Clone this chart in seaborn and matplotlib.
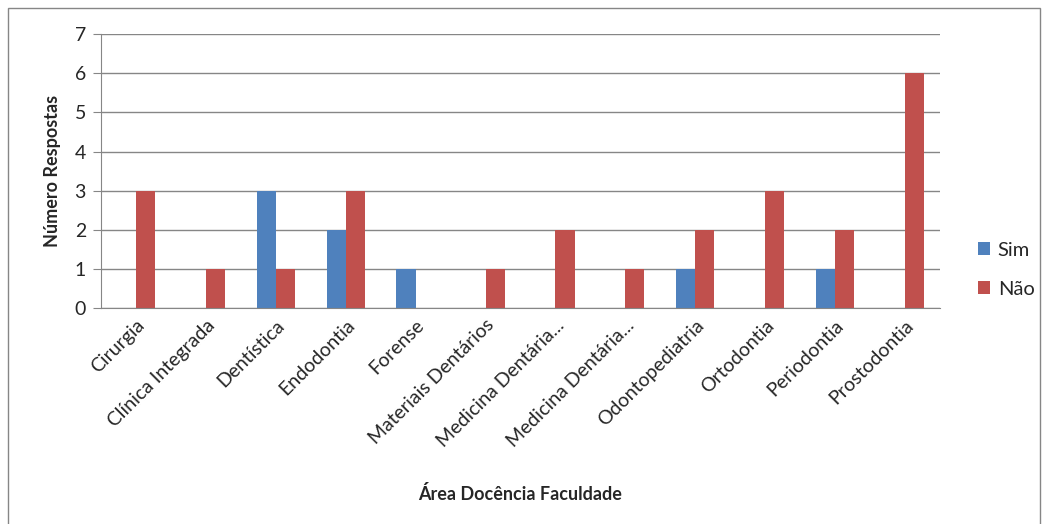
import pandas as pd
import matplotlib.pyplot as plt
import seaborn as sns
from matplotlib.patches import Rectangle, Patch

categorias = ["Cirurgia", "Clínica Integrada", "Dentística", "Endodontia", "Forense",
              "Materiais Dentários", "Medicina Dentária...", "Medicina Dentária...",
              "Odontopediatria", "Ortodontia", "Periodontia", "Prostodontia"]
sim = [0, 0, 3, 2, 1, 0, 0, 0, 1, 0, 1, 0]
nao = [3, 1, 1, 3, 0, 1, 2, 1, 2, 3, 2, 6]
series = ["Sim", "Não"]
cores = ["#4F81BD", "#C0504D"]

# ids keep the two "Medicina Dentária..." categories apart
ids = [f"c{i}" for i in range(len(categorias))]
df = pd.DataFrame({
    "cat": ids * 2,
    "serie": [series[0]] * len(ids) + [series[1]] * len(ids),
    "valor": sim + nao,
})

sns.set_style("white")
plt.rcParams["font.family"] = ["Lato", "DejaVu Sans"]

fig = plt.figure(figsize=(10.43, 5.24), dpi=100)
ax = fig.add_axes([0.097, 0.412, 0.804, 0.523])

sns.barplot(data=df, x="cat", y="valor", hue="serie", order=ids,
            hue_order=series, palette=cores, width=0.55, saturation=1,
            edgecolor="none", legend=False, ax=ax)

ax.set_ylim(0, 7)
ax.set_xlim(-0.5, len(ids) - 0.5)
ax.set_yticks(range(8))
ax.yaxis.grid(True, color="#868686", linewidth=1)
ax.set_axisbelow(True)
for s in ["top", "right"]:
    ax.spines[s].set_visible(False)
ax.spines["left"].set_color("#868686")
ax.spines["bottom"].set_color("#868686")
ax.tick_params(axis="y", length=6, color="#868686", labelsize=14, pad=5, left=True)
ax.tick_params(axis="x", length=0, labelsize=14, pad=6)
ax.set_xticks(range(len(ids)))
ax.set_xticklabels(categorias, rotation=45, ha="right", rotation_mode="anchor")

ax.set_xlabel("Área Docência Faculdade", fontsize=13, fontweight="bold")
ax.set_ylabel("Número Respostas", fontsize=13, fontweight="bold", labelpad=10)
ax.xaxis.set_label_coords(0.5, -0.645)

handles = [Patch(facecolor=c, edgecolor="none") for c in cores]
fig.legend(handles, series, loc="center left", bbox_to_anchor=(0.92, 0.485),
           frameon=False, fontsize=14.5, handlelength=0.6, handleheight=0.6,
           handletextpad=0.4, labelspacing=1.1)

fig.patches.append(Rectangle((0.008, -0.01), 0.989, 0.995, transform=fig.transFigure,
                             fill=False, edgecolor="#868686", linewidth=1))

fig.savefig("out.png", dpi=100)
